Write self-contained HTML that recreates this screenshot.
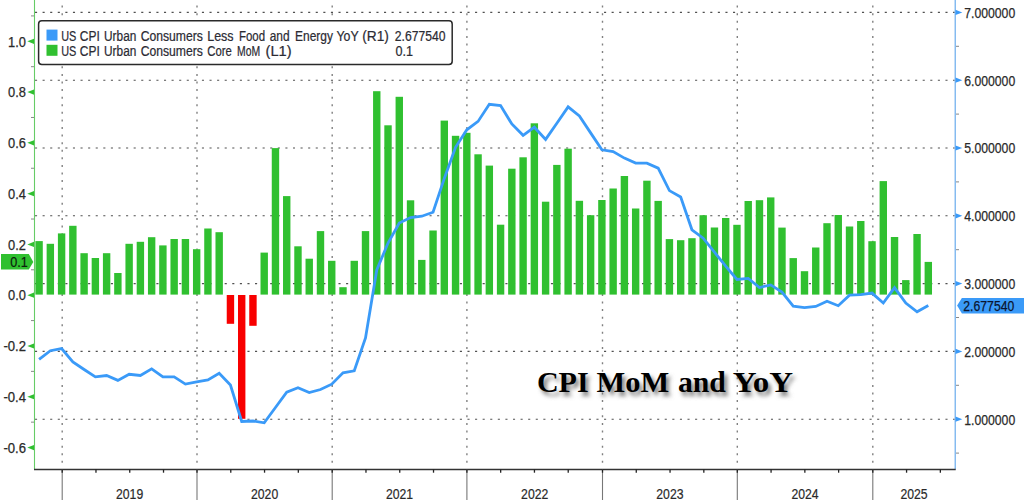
<!DOCTYPE html>
<html><head><meta charset="utf-8"><style>
html,body{margin:0;padding:0;background:#fff;}
svg{display:block;}
</style></head><body>
<svg width="1024" height="500" viewBox="0 0 1024 500">
<rect width="1024" height="500" fill="#fff"/>
<line x1="35" y1="12.40" x2="954.7" y2="12.40" stroke="#505050" stroke-width="1.1" stroke-dasharray="2.1 5.487"/>
<line x1="35" y1="80.20" x2="954.7" y2="80.20" stroke="#505050" stroke-width="1.1" stroke-dasharray="2.1 5.487"/>
<line x1="35" y1="148.00" x2="954.7" y2="148.00" stroke="#505050" stroke-width="1.1" stroke-dasharray="2.1 5.487"/>
<line x1="35" y1="215.80" x2="954.7" y2="215.80" stroke="#505050" stroke-width="1.1" stroke-dasharray="2.1 5.487"/>
<line x1="35" y1="283.60" x2="954.7" y2="283.60" stroke="#505050" stroke-width="1.1" stroke-dasharray="2.1 5.487"/>
<line x1="35" y1="351.40" x2="954.7" y2="351.40" stroke="#505050" stroke-width="1.1" stroke-dasharray="2.1 5.487"/>
<line x1="35" y1="419.20" x2="954.7" y2="419.20" stroke="#505050" stroke-width="1.1" stroke-dasharray="2.1 5.487"/>
<line x1="62.20" y1="5.6" x2="62.20" y2="468.5" stroke="#808080" stroke-width="1.4" stroke-dasharray="2 5.587"/>
<line x1="197.00" y1="5.6" x2="197.00" y2="468.5" stroke="#808080" stroke-width="1.4" stroke-dasharray="2 5.587"/>
<line x1="332.20" y1="5.6" x2="332.20" y2="468.5" stroke="#808080" stroke-width="1.4" stroke-dasharray="2 5.587"/>
<line x1="466.90" y1="5.6" x2="466.90" y2="468.5" stroke="#808080" stroke-width="1.4" stroke-dasharray="2 5.587"/>
<line x1="602.50" y1="5.6" x2="602.50" y2="468.5" stroke="#808080" stroke-width="1.4" stroke-dasharray="2 5.587"/>
<line x1="737.30" y1="5.6" x2="737.30" y2="468.5" stroke="#808080" stroke-width="1.4" stroke-dasharray="2 5.587"/>
<line x1="872.80" y1="5.6" x2="872.80" y2="468.5" stroke="#808080" stroke-width="1.4" stroke-dasharray="2 5.587"/>
<rect x="35.39" y="241.10" width="7.40" height="53.50" fill="#30c030"/>
<rect x="46.64" y="243.80" width="7.40" height="50.80" fill="#30c030"/>
<rect x="57.90" y="233.40" width="7.40" height="61.20" fill="#30c030"/>
<rect x="69.16" y="225.80" width="7.40" height="68.80" fill="#30c030"/>
<rect x="80.41" y="253.20" width="7.40" height="41.40" fill="#30c030"/>
<rect x="91.67" y="258.00" width="7.40" height="36.60" fill="#30c030"/>
<rect x="102.92" y="253.20" width="7.40" height="41.40" fill="#30c030"/>
<rect x="114.18" y="273.00" width="7.40" height="21.60" fill="#30c030"/>
<rect x="125.44" y="243.80" width="7.40" height="50.80" fill="#30c030"/>
<rect x="136.69" y="241.80" width="7.40" height="52.80" fill="#30c030"/>
<rect x="147.95" y="237.20" width="7.40" height="57.40" fill="#30c030"/>
<rect x="159.20" y="245.40" width="7.40" height="49.20" fill="#30c030"/>
<rect x="170.46" y="239.00" width="7.40" height="55.60" fill="#30c030"/>
<rect x="181.72" y="239.00" width="7.40" height="55.60" fill="#30c030"/>
<rect x="192.97" y="249.20" width="7.40" height="45.40" fill="#30c030"/>
<rect x="204.23" y="228.50" width="7.40" height="66.10" fill="#30c030"/>
<rect x="215.48" y="232.20" width="7.40" height="62.40" fill="#30c030"/>
<rect x="226.74" y="295" width="7.4" height="28.80" fill="#f80000"/>
<rect x="238.00" y="295" width="7.4" height="123.80" fill="#f80000"/>
<rect x="249.25" y="295" width="7.4" height="30.80" fill="#f80000"/>
<rect x="260.51" y="252.60" width="7.40" height="42.00" fill="#30c030"/>
<rect x="271.76" y="148.10" width="7.40" height="146.50" fill="#30c030"/>
<rect x="283.02" y="196.10" width="7.40" height="98.50" fill="#30c030"/>
<rect x="294.28" y="246.30" width="7.40" height="48.30" fill="#30c030"/>
<rect x="305.53" y="258.70" width="7.40" height="35.90" fill="#30c030"/>
<rect x="316.79" y="231.10" width="7.40" height="63.50" fill="#30c030"/>
<rect x="328.04" y="260.80" width="7.40" height="33.80" fill="#30c030"/>
<rect x="339.30" y="287.20" width="7.40" height="7.40" fill="#30c030"/>
<rect x="350.56" y="260.80" width="7.40" height="33.80" fill="#30c030"/>
<rect x="361.81" y="231.10" width="7.40" height="63.50" fill="#30c030"/>
<rect x="373.07" y="91.20" width="7.40" height="203.40" fill="#30c030"/>
<rect x="384.32" y="125.30" width="7.40" height="169.30" fill="#30c030"/>
<rect x="395.58" y="96.80" width="7.40" height="197.80" fill="#30c030"/>
<rect x="406.84" y="200.30" width="7.40" height="94.30" fill="#30c030"/>
<rect x="418.09" y="259.90" width="7.40" height="34.70" fill="#30c030"/>
<rect x="429.35" y="230.50" width="7.40" height="64.10" fill="#30c030"/>
<rect x="440.60" y="120.60" width="7.40" height="174.00" fill="#30c030"/>
<rect x="451.86" y="135.80" width="7.40" height="158.80" fill="#30c030"/>
<rect x="463.12" y="132.80" width="7.40" height="161.80" fill="#30c030"/>
<rect x="474.37" y="154.30" width="7.40" height="140.30" fill="#30c030"/>
<rect x="485.63" y="165.60" width="7.40" height="129.00" fill="#30c030"/>
<rect x="496.88" y="224.70" width="7.40" height="69.90" fill="#30c030"/>
<rect x="508.14" y="168.70" width="7.40" height="125.90" fill="#30c030"/>
<rect x="519.40" y="157.30" width="7.40" height="137.30" fill="#30c030"/>
<rect x="530.65" y="123.30" width="7.40" height="171.30" fill="#30c030"/>
<rect x="541.91" y="201.70" width="7.40" height="92.90" fill="#30c030"/>
<rect x="553.16" y="164.90" width="7.40" height="129.70" fill="#30c030"/>
<rect x="564.42" y="148.70" width="7.40" height="145.90" fill="#30c030"/>
<rect x="575.68" y="200.80" width="7.40" height="93.80" fill="#30c030"/>
<rect x="586.93" y="215.20" width="7.40" height="79.40" fill="#30c030"/>
<rect x="598.19" y="200.00" width="7.40" height="94.60" fill="#30c030"/>
<rect x="609.44" y="188.50" width="7.40" height="106.10" fill="#30c030"/>
<rect x="620.70" y="176.00" width="7.40" height="118.60" fill="#30c030"/>
<rect x="631.96" y="208.50" width="7.40" height="86.10" fill="#30c030"/>
<rect x="643.21" y="180.70" width="7.40" height="113.90" fill="#30c030"/>
<rect x="654.47" y="200.90" width="7.40" height="93.70" fill="#30c030"/>
<rect x="665.72" y="239.10" width="7.40" height="55.50" fill="#30c030"/>
<rect x="676.98" y="240.20" width="7.40" height="54.40" fill="#30c030"/>
<rect x="688.24" y="238.20" width="7.40" height="56.40" fill="#30c030"/>
<rect x="699.49" y="215.20" width="7.40" height="79.40" fill="#30c030"/>
<rect x="710.75" y="227.50" width="7.40" height="67.10" fill="#30c030"/>
<rect x="722.00" y="218.00" width="7.40" height="76.60" fill="#30c030"/>
<rect x="733.26" y="224.80" width="7.40" height="69.80" fill="#30c030"/>
<rect x="744.52" y="201.00" width="7.40" height="93.60" fill="#30c030"/>
<rect x="755.77" y="200.20" width="7.40" height="94.40" fill="#30c030"/>
<rect x="767.03" y="197.40" width="7.40" height="97.20" fill="#30c030"/>
<rect x="778.28" y="227.60" width="7.40" height="67.00" fill="#30c030"/>
<rect x="789.54" y="258.10" width="7.40" height="36.50" fill="#30c030"/>
<rect x="800.80" y="271.20" width="7.40" height="23.40" fill="#30c030"/>
<rect x="812.05" y="247.50" width="7.40" height="47.10" fill="#30c030"/>
<rect x="823.31" y="223.20" width="7.40" height="71.40" fill="#30c030"/>
<rect x="834.56" y="215.00" width="7.40" height="79.60" fill="#30c030"/>
<rect x="845.82" y="226.50" width="7.40" height="68.10" fill="#30c030"/>
<rect x="857.08" y="221.00" width="7.40" height="73.60" fill="#30c030"/>
<rect x="868.33" y="241.20" width="7.40" height="53.40" fill="#30c030"/>
<rect x="879.59" y="181.10" width="7.40" height="113.50" fill="#30c030"/>
<rect x="890.84" y="237.00" width="7.40" height="57.60" fill="#30c030"/>
<rect x="902.10" y="280.10" width="7.40" height="14.50" fill="#30c030"/>
<rect x="913.36" y="234.00" width="7.40" height="60.60" fill="#30c030"/>
<rect x="924.61" y="261.90" width="7.40" height="32.70" fill="#30c030"/>
<polyline points="39.09,359.40 50.34,350.70 61.60,348.60 72.86,361.90 84.11,369.50 95.37,376.90 106.62,375.50 117.88,380.40 129.14,374.30 140.39,375.50 151.65,368.80 162.90,376.90 174.16,376.90 185.42,384.10 196.67,381.80 207.93,380.00 219.18,373.30 230.44,385.00 241.70,421.50 252.95,421.00 264.21,422.80 275.46,407.50 286.72,392.20 297.98,387.70 309.23,392.60 320.49,389.50 331.74,384.20 343.00,372.80 354.26,370.80 365.51,338.00 376.77,270.00 388.02,243.00 399.28,223.00 410.54,217.50 421.79,216.20 433.05,212.20 444.30,178.40 455.56,147.30 466.82,129.80 478.07,121.40 489.33,104.30 500.58,105.50 511.84,124.00 523.10,135.30 534.35,127.20 545.61,139.40 556.86,123.30 568.12,106.90 579.38,116.00 590.63,132.90 601.89,149.80 613.14,151.60 624.40,158.10 635.66,163.10 646.91,163.20 658.17,168.20 669.42,190.60 680.68,197.00 691.94,229.80 703.19,238.20 714.45,252.20 725.70,266.20 736.96,279.50 748.22,278.40 759.47,287.50 770.73,284.90 781.98,292.10 793.24,306.10 804.50,307.70 815.75,306.40 827.01,301.20 838.26,305.70 849.52,295.20 860.78,294.70 872.03,293.10 883.29,303.00 894.54,287.60 905.80,303.00 917.06,311.80 928.31,305.60" fill="none" stroke="#3a9af8" stroke-width="2.8" stroke-linejoin="miter" stroke-miterlimit="3"/>
<line x1="34.5" y1="0" x2="34.5" y2="469.5" stroke="#66cc66" stroke-width="1.1"/>
<path d="M34 38.70 L27.3 41.30 L34 43.90 Z" fill="#30c030"/>
<text x="26.0" y="46.50" font-family="Liberation Sans, sans-serif" font-size="14" fill="#2a2a2a" stroke="#2a2a2a" stroke-width="0.25" text-anchor="end" textLength="17.9" lengthAdjust="spacingAndGlyphs">1.0</text>
<line x1="31" y1="66.69" x2="34" y2="66.69" stroke="#888" stroke-width="1"/>
<path d="M34 89.48 L27.3 92.08 L34 94.68 Z" fill="#30c030"/>
<text x="26.0" y="97.28" font-family="Liberation Sans, sans-serif" font-size="14" fill="#2a2a2a" stroke="#2a2a2a" stroke-width="0.25" text-anchor="end" textLength="17.9" lengthAdjust="spacingAndGlyphs">0.8</text>
<line x1="31" y1="117.47" x2="34" y2="117.47" stroke="#888" stroke-width="1"/>
<path d="M34 140.26 L27.3 142.86 L34 145.46 Z" fill="#30c030"/>
<text x="26.0" y="148.06" font-family="Liberation Sans, sans-serif" font-size="14" fill="#2a2a2a" stroke="#2a2a2a" stroke-width="0.25" text-anchor="end" textLength="17.9" lengthAdjust="spacingAndGlyphs">0.6</text>
<line x1="31" y1="168.25" x2="34" y2="168.25" stroke="#888" stroke-width="1"/>
<path d="M34 191.04 L27.3 193.64 L34 196.24 Z" fill="#30c030"/>
<text x="26.0" y="198.84" font-family="Liberation Sans, sans-serif" font-size="14" fill="#2a2a2a" stroke="#2a2a2a" stroke-width="0.25" text-anchor="end" textLength="17.9" lengthAdjust="spacingAndGlyphs">0.4</text>
<line x1="31" y1="219.03" x2="34" y2="219.03" stroke="#888" stroke-width="1"/>
<path d="M34 241.82 L27.3 244.42 L34 247.02 Z" fill="#30c030"/>
<text x="26.0" y="249.62" font-family="Liberation Sans, sans-serif" font-size="14" fill="#2a2a2a" stroke="#2a2a2a" stroke-width="0.25" text-anchor="end" textLength="17.9" lengthAdjust="spacingAndGlyphs">0.2</text>
<line x1="31" y1="269.81" x2="34" y2="269.81" stroke="#888" stroke-width="1"/>
<path d="M34 292.60 L27.3 295.20 L34 297.80 Z" fill="#30c030"/>
<text x="26.0" y="300.40" font-family="Liberation Sans, sans-serif" font-size="14" fill="#2a2a2a" stroke="#2a2a2a" stroke-width="0.25" text-anchor="end" textLength="17.9" lengthAdjust="spacingAndGlyphs">0.0</text>
<line x1="31" y1="320.59" x2="34" y2="320.59" stroke="#888" stroke-width="1"/>
<path d="M34 343.38 L27.3 345.98 L34 348.58 Z" fill="#30c030"/>
<text x="26.0" y="351.18" font-family="Liberation Sans, sans-serif" font-size="14" fill="#2a2a2a" stroke="#2a2a2a" stroke-width="0.25" text-anchor="end" textLength="22.6" lengthAdjust="spacingAndGlyphs">-0.2</text>
<line x1="31" y1="371.37" x2="34" y2="371.37" stroke="#888" stroke-width="1"/>
<path d="M34 394.16 L27.3 396.76 L34 399.36 Z" fill="#30c030"/>
<text x="26.0" y="401.96" font-family="Liberation Sans, sans-serif" font-size="14" fill="#2a2a2a" stroke="#2a2a2a" stroke-width="0.25" text-anchor="end" textLength="22.6" lengthAdjust="spacingAndGlyphs">-0.4</text>
<line x1="31" y1="422.15" x2="34" y2="422.15" stroke="#888" stroke-width="1"/>
<path d="M34 444.94 L27.3 447.54 L34 450.14 Z" fill="#30c030"/>
<text x="26.0" y="452.74" font-family="Liberation Sans, sans-serif" font-size="14" fill="#2a2a2a" stroke="#2a2a2a" stroke-width="0.25" text-anchor="end" textLength="22.6" lengthAdjust="spacingAndGlyphs">-0.6</text>
<line x1="31" y1="15.91" x2="34" y2="15.91" stroke="#888" stroke-width="1"/>
<line x1="955.2" y1="0" x2="955.2" y2="469.5" stroke="#62a8ec" stroke-width="1.15"/>
<path d="M955.5 9.80 L962.3 12.40 L955.5 15.00 Z" fill="#3a9af8"/>
<text x="964.2" y="17.80" font-family="Liberation Sans, sans-serif" font-size="14.3" fill="#2a2a2a" stroke="#2a2a2a" stroke-width="0.25" textLength="51" lengthAdjust="spacingAndGlyphs">7.000000</text>
<line x1="956" y1="46.30" x2="959" y2="46.30" stroke="#888" stroke-width="1"/>
<path d="M955.5 77.60 L962.3 80.20 L955.5 82.80 Z" fill="#3a9af8"/>
<text x="964.2" y="85.60" font-family="Liberation Sans, sans-serif" font-size="14.3" fill="#2a2a2a" stroke="#2a2a2a" stroke-width="0.25" textLength="51" lengthAdjust="spacingAndGlyphs">6.000000</text>
<line x1="956" y1="114.10" x2="959" y2="114.10" stroke="#888" stroke-width="1"/>
<path d="M955.5 145.40 L962.3 148.00 L955.5 150.60 Z" fill="#3a9af8"/>
<text x="964.2" y="153.40" font-family="Liberation Sans, sans-serif" font-size="14.3" fill="#2a2a2a" stroke="#2a2a2a" stroke-width="0.25" textLength="51" lengthAdjust="spacingAndGlyphs">5.000000</text>
<line x1="956" y1="181.90" x2="959" y2="181.90" stroke="#888" stroke-width="1"/>
<path d="M955.5 213.20 L962.3 215.80 L955.5 218.40 Z" fill="#3a9af8"/>
<text x="964.2" y="221.20" font-family="Liberation Sans, sans-serif" font-size="14.3" fill="#2a2a2a" stroke="#2a2a2a" stroke-width="0.25" textLength="51" lengthAdjust="spacingAndGlyphs">4.000000</text>
<line x1="956" y1="249.70" x2="959" y2="249.70" stroke="#888" stroke-width="1"/>
<path d="M955.5 281.00 L962.3 283.60 L955.5 286.20 Z" fill="#3a9af8"/>
<text x="964.2" y="289.00" font-family="Liberation Sans, sans-serif" font-size="14.3" fill="#2a2a2a" stroke="#2a2a2a" stroke-width="0.25" textLength="51" lengthAdjust="spacingAndGlyphs">3.000000</text>
<line x1="956" y1="317.50" x2="959" y2="317.50" stroke="#888" stroke-width="1"/>
<path d="M955.5 348.80 L962.3 351.40 L955.5 354.00 Z" fill="#3a9af8"/>
<text x="964.2" y="356.80" font-family="Liberation Sans, sans-serif" font-size="14.3" fill="#2a2a2a" stroke="#2a2a2a" stroke-width="0.25" textLength="51" lengthAdjust="spacingAndGlyphs">2.000000</text>
<line x1="956" y1="385.30" x2="959" y2="385.30" stroke="#888" stroke-width="1"/>
<path d="M955.5 416.60 L962.3 419.20 L955.5 421.80 Z" fill="#3a9af8"/>
<text x="964.2" y="424.60" font-family="Liberation Sans, sans-serif" font-size="14.3" fill="#2a2a2a" stroke="#2a2a2a" stroke-width="0.25" textLength="51" lengthAdjust="spacingAndGlyphs">1.000000</text>
<line x1="956" y1="453.10" x2="959" y2="453.10" stroke="#888" stroke-width="1"/>
<line x1="34" y1="469.5" x2="955.7" y2="469.5" stroke="#333" stroke-width="1.6"/>
<line x1="62.20" y1="469.5" x2="62.20" y2="500" stroke="#777" stroke-width="1.1"/>
<line x1="62.20" y1="469.5" x2="62.20" y2="472.7" stroke="#222" stroke-width="1.3"/>
<line x1="95.97" y1="469.5" x2="95.97" y2="472.7" stroke="#222" stroke-width="1.3"/>
<line x1="129.75" y1="469.5" x2="129.75" y2="472.7" stroke="#222" stroke-width="1.3"/>
<line x1="163.52" y1="469.5" x2="163.52" y2="472.7" stroke="#222" stroke-width="1.3"/>
<text x="129.60" y="498.8" font-family="Liberation Sans, sans-serif" font-size="14" fill="#2a2a2a" stroke="#2a2a2a" stroke-width="0.2" text-anchor="middle" textLength="27.2" lengthAdjust="spacingAndGlyphs">2019</text>
<line x1="197.00" y1="469.5" x2="197.00" y2="500" stroke="#777" stroke-width="1.1"/>
<line x1="197.00" y1="469.5" x2="197.00" y2="472.7" stroke="#222" stroke-width="1.3"/>
<line x1="230.78" y1="469.5" x2="230.78" y2="472.7" stroke="#222" stroke-width="1.3"/>
<line x1="264.55" y1="469.5" x2="264.55" y2="472.7" stroke="#222" stroke-width="1.3"/>
<line x1="298.32" y1="469.5" x2="298.32" y2="472.7" stroke="#222" stroke-width="1.3"/>
<text x="264.60" y="498.8" font-family="Liberation Sans, sans-serif" font-size="14" fill="#2a2a2a" stroke="#2a2a2a" stroke-width="0.2" text-anchor="middle" textLength="27.2" lengthAdjust="spacingAndGlyphs">2020</text>
<line x1="332.20" y1="469.5" x2="332.20" y2="500" stroke="#777" stroke-width="1.1"/>
<line x1="332.20" y1="469.5" x2="332.20" y2="472.7" stroke="#222" stroke-width="1.3"/>
<line x1="365.97" y1="469.5" x2="365.97" y2="472.7" stroke="#222" stroke-width="1.3"/>
<line x1="399.75" y1="469.5" x2="399.75" y2="472.7" stroke="#222" stroke-width="1.3"/>
<line x1="433.52" y1="469.5" x2="433.52" y2="472.7" stroke="#222" stroke-width="1.3"/>
<text x="399.55" y="498.8" font-family="Liberation Sans, sans-serif" font-size="14" fill="#2a2a2a" stroke="#2a2a2a" stroke-width="0.2" text-anchor="middle" textLength="27.2" lengthAdjust="spacingAndGlyphs">2021</text>
<line x1="466.90" y1="469.5" x2="466.90" y2="500" stroke="#777" stroke-width="1.1"/>
<line x1="466.90" y1="469.5" x2="466.90" y2="472.7" stroke="#222" stroke-width="1.3"/>
<line x1="500.67" y1="469.5" x2="500.67" y2="472.7" stroke="#222" stroke-width="1.3"/>
<line x1="534.45" y1="469.5" x2="534.45" y2="472.7" stroke="#222" stroke-width="1.3"/>
<line x1="568.22" y1="469.5" x2="568.22" y2="472.7" stroke="#222" stroke-width="1.3"/>
<text x="534.70" y="498.8" font-family="Liberation Sans, sans-serif" font-size="14" fill="#2a2a2a" stroke="#2a2a2a" stroke-width="0.2" text-anchor="middle" textLength="27.2" lengthAdjust="spacingAndGlyphs">2022</text>
<line x1="602.50" y1="469.5" x2="602.50" y2="500" stroke="#777" stroke-width="1.1"/>
<line x1="602.50" y1="469.5" x2="602.50" y2="472.7" stroke="#222" stroke-width="1.3"/>
<line x1="636.27" y1="469.5" x2="636.27" y2="472.7" stroke="#222" stroke-width="1.3"/>
<line x1="670.05" y1="469.5" x2="670.05" y2="472.7" stroke="#222" stroke-width="1.3"/>
<line x1="703.83" y1="469.5" x2="703.83" y2="472.7" stroke="#222" stroke-width="1.3"/>
<text x="669.90" y="498.8" font-family="Liberation Sans, sans-serif" font-size="14" fill="#2a2a2a" stroke="#2a2a2a" stroke-width="0.2" text-anchor="middle" textLength="27.2" lengthAdjust="spacingAndGlyphs">2023</text>
<line x1="737.30" y1="469.5" x2="737.30" y2="500" stroke="#777" stroke-width="1.1"/>
<line x1="737.30" y1="469.5" x2="737.30" y2="472.7" stroke="#222" stroke-width="1.3"/>
<line x1="771.07" y1="469.5" x2="771.07" y2="472.7" stroke="#222" stroke-width="1.3"/>
<line x1="804.85" y1="469.5" x2="804.85" y2="472.7" stroke="#222" stroke-width="1.3"/>
<line x1="838.62" y1="469.5" x2="838.62" y2="472.7" stroke="#222" stroke-width="1.3"/>
<text x="805.05" y="498.8" font-family="Liberation Sans, sans-serif" font-size="14" fill="#2a2a2a" stroke="#2a2a2a" stroke-width="0.2" text-anchor="middle" textLength="27.2" lengthAdjust="spacingAndGlyphs">2024</text>
<line x1="872.80" y1="469.5" x2="872.80" y2="500" stroke="#777" stroke-width="1.1"/>
<line x1="872.80" y1="469.5" x2="872.80" y2="472.7" stroke="#222" stroke-width="1.3"/>
<line x1="906.57" y1="469.5" x2="906.57" y2="472.7" stroke="#222" stroke-width="1.3"/>
<line x1="940.35" y1="469.5" x2="940.35" y2="472.7" stroke="#222" stroke-width="1.3"/>
<text x="914.00" y="498.8" font-family="Liberation Sans, sans-serif" font-size="14" fill="#2a2a2a" stroke="#2a2a2a" stroke-width="0.2" text-anchor="middle" textLength="27.2" lengthAdjust="spacingAndGlyphs">2025</text>
<defs><filter id="sh" x="-10%" y="-30%" width="120%" height="160%"><feGaussianBlur stdDeviation="2.3"/></filter></defs>
<g filter="url(#sh)" fill="#7a7a7a"><text x="539.9" y="395.8" font-family="Liberation Serif, serif" font-weight="bold" font-size="30" textLength="51.8" lengthAdjust="spacingAndGlyphs">CPI</text><text x="599.6" y="395.8" font-family="Liberation Serif, serif" font-weight="bold" font-size="30" textLength="72.6" lengthAdjust="spacingAndGlyphs">MoM</text><text x="680.9" y="395.8" font-family="Liberation Serif, serif" font-weight="bold" font-size="30" textLength="47.9" lengthAdjust="spacingAndGlyphs">and</text><text x="735.7" y="395.8" font-family="Liberation Serif, serif" font-weight="bold" font-size="30" textLength="60.4" lengthAdjust="spacingAndGlyphs">YoY</text></g>
<g fill="#000"><text x="536.9" y="392" font-family="Liberation Serif, serif" font-weight="bold" font-size="30" textLength="51.8" lengthAdjust="spacingAndGlyphs">CPI</text><text x="596.6" y="392" font-family="Liberation Serif, serif" font-weight="bold" font-size="30" textLength="72.6" lengthAdjust="spacingAndGlyphs">MoM</text><text x="677.9" y="392" font-family="Liberation Serif, serif" font-weight="bold" font-size="30" textLength="47.9" lengthAdjust="spacingAndGlyphs">and</text><text x="732.7" y="392" font-family="Liberation Serif, serif" font-weight="bold" font-size="30" textLength="60.4" lengthAdjust="spacingAndGlyphs">YoY</text></g>
<rect x="38.6" y="20.8" width="413.6" height="43.7" rx="3.2" ry="3.2" fill="#fff" stroke="#2a2a2a" stroke-width="1.5"/>
<rect x="46.5" y="29.6" width="11" height="11" fill="#3a9af8"/>
<rect x="46.5" y="44.8" width="11" height="11" fill="#30c030"/>
<g><text x="61.22" y="40.8" font-family="Liberation Sans, sans-serif" font-size="14" fill="#2b2b33" stroke="#2b2b33" stroke-width="0.22" textLength="15.13" lengthAdjust="spacingAndGlyphs">US</text><text x="79.85" y="40.8" font-family="Liberation Sans, sans-serif" font-size="14" fill="#2b2b33" stroke="#2b2b33" stroke-width="0.22" textLength="19.95" lengthAdjust="spacingAndGlyphs">CPI</text><text x="104.05" y="40.8" font-family="Liberation Sans, sans-serif" font-size="14" fill="#2b2b33" stroke="#2b2b33" stroke-width="0.22" textLength="32.26" lengthAdjust="spacingAndGlyphs">Urban</text><text x="140.63" y="40.8" font-family="Liberation Sans, sans-serif" font-size="14" fill="#2b2b33" stroke="#2b2b33" stroke-width="0.22" textLength="62.29" lengthAdjust="spacingAndGlyphs">Consumers</text><text x="207.21" y="40.8" font-family="Liberation Sans, sans-serif" font-size="14" fill="#2b2b33" stroke="#2b2b33" stroke-width="0.22" textLength="26.41" lengthAdjust="spacingAndGlyphs">Less</text><text x="238.98" y="40.8" font-family="Liberation Sans, sans-serif" font-size="14" fill="#2b2b33" stroke="#2b2b33" stroke-width="0.22" textLength="26.16" lengthAdjust="spacingAndGlyphs">Food</text><text x="269.65" y="40.8" font-family="Liberation Sans, sans-serif" font-size="14" fill="#2b2b33" stroke="#2b2b33" stroke-width="0.22" textLength="19.86" lengthAdjust="spacingAndGlyphs">and</text><text x="295.05" y="40.8" font-family="Liberation Sans, sans-serif" font-size="14" fill="#2b2b33" stroke="#2b2b33" stroke-width="0.22" textLength="37.86" lengthAdjust="spacingAndGlyphs">Energy</text><text x="336.52" y="40.8" font-family="Liberation Sans, sans-serif" font-size="14" fill="#2b2b33" stroke="#2b2b33" stroke-width="0.22" textLength="22.23" lengthAdjust="spacingAndGlyphs">YoY</text><text x="362.22" y="40.8" font-family="Liberation Sans, sans-serif" font-size="14" fill="#2b2b33" stroke="#2b2b33" stroke-width="0.22" textLength="26.61" lengthAdjust="spacingAndGlyphs">(R1)</text></g>
<g><text x="61.22" y="55.8" font-family="Liberation Sans, sans-serif" font-size="14" fill="#2b2b33" stroke="#2b2b33" stroke-width="0.22" textLength="15.13" lengthAdjust="spacingAndGlyphs">US</text><text x="79.85" y="55.8" font-family="Liberation Sans, sans-serif" font-size="14" fill="#2b2b33" stroke="#2b2b33" stroke-width="0.22" textLength="19.95" lengthAdjust="spacingAndGlyphs">CPI</text><text x="104.05" y="55.8" font-family="Liberation Sans, sans-serif" font-size="14" fill="#2b2b33" stroke="#2b2b33" stroke-width="0.22" textLength="32.26" lengthAdjust="spacingAndGlyphs">Urban</text><text x="140.63" y="55.8" font-family="Liberation Sans, sans-serif" font-size="14" fill="#2b2b33" stroke="#2b2b33" stroke-width="0.22" textLength="62.29" lengthAdjust="spacingAndGlyphs">Consumers</text><text x="207.29" y="55.8" font-family="Liberation Sans, sans-serif" font-size="14" fill="#2b2b33" stroke="#2b2b33" stroke-width="0.22" textLength="24.6" lengthAdjust="spacingAndGlyphs">Core</text><text x="237.06" y="55.8" font-family="Liberation Sans, sans-serif" font-size="14" fill="#2b2b33" stroke="#2b2b33" stroke-width="0.22" textLength="23.14" lengthAdjust="spacingAndGlyphs">MoM</text><text x="265.56" y="55.8" font-family="Liberation Sans, sans-serif" font-size="14" fill="#2b2b33" stroke="#2b2b33" stroke-width="0.22" textLength="25.99" lengthAdjust="spacingAndGlyphs">(L1)</text></g>
<text x="394.83" y="40.8" font-family="Liberation Sans, sans-serif" font-size="14" fill="#2b2b33" stroke="#2b2b33" stroke-width="0.22" textLength="50.82" lengthAdjust="spacingAndGlyphs">2.677540</text>
<text x="395.5" y="55.8" font-family="Liberation Sans, sans-serif" font-size="14" fill="#2b2b33" stroke="#2b2b33" stroke-width="0.22" textLength="17.52" lengthAdjust="spacingAndGlyphs">0.1</text>
<path d="M1 254.1 L28.8 254.1 L33.3 261.9 L28.8 269.6 L1 269.6 Z" fill="#30c030"/>
<text x="27.8" y="267.2" font-family="Liberation Sans, sans-serif" font-size="14" fill="#0c200c" stroke="#0c200c" stroke-width="0.2" text-anchor="end" textLength="17.6" lengthAdjust="spacingAndGlyphs">0.1</text>
<path d="M1024 297.9 L961.9 297.9 L957.1 305.6 L961.9 313.5 L1024 313.5 Z" fill="#3a9af8"/>
<text x="963.3" y="311.2" font-family="Liberation Sans, sans-serif" font-size="14.2" fill="#0a1530" stroke="#0a1530" stroke-width="0.25" textLength="51" lengthAdjust="spacingAndGlyphs">2.677540</text>
</svg>
</body></html>
